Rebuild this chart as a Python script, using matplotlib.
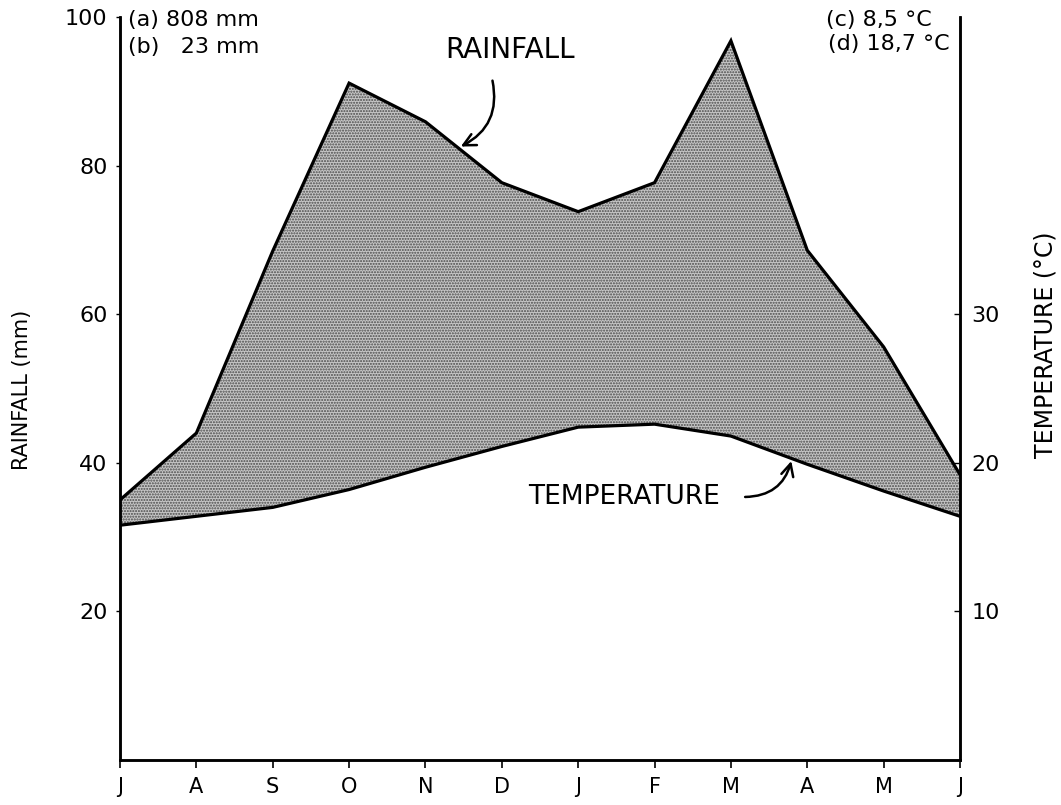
import matplotlib
matplotlib.use("Agg")
import numpy as np
import matplotlib.pyplot as plt

plt.rcParams['font.family'] = ['DejaVu Sans']
plt.rcParams['hatch.linewidth'] = 1.0
plt.rcParams['hatch.color'] = '#4a4a4a'

# 月份（7月到次年6月）
months = ["J", "A", "S", "O", "N", "D", "J", "F", "M", "A", "M", "J"]
# 月降水量 (mm)
rainfall = [35.0, 44.0, 68.5, 91.1, 85.9, 77.7, 73.8, 77.7, 96.8, 68.6, 55.6, 38.4]
# 月平均气温 (°C)
temperature = [15.8, 16.4, 17.0, 18.2, 19.7, 21.1, 22.4, 22.6, 21.8, 19.9, 18.1, 16.4]

rain_ticks = [20, 40, 60, 80, 100]
temp_ticks = [10, 20, 30]

x = np.arange(len(months))
temp_mm = np.array(temperature) * 2  # 气温刻度: 1 °C = 2 mm

fig = plt.figure(figsize=(10.61, 8.05), dpi=100)
ax = fig.add_axes([120 / 1061, 45 / 805, 840 / 1061, 743 / 805])

# 阴影区域（降水高于气温的湿润期）
ax.fill_between(x, temp_mm, rainfall, facecolor='#c6c6c6', edgecolor='#4a4a4a',
                hatch='......', linewidth=0)
ax.plot(x, rainfall, color='black', linewidth=2.3, solid_joinstyle='miter')

ax.set_xlim(0, len(months) - 1)
ax.set_ylim(0, 100)
ax.set_xticks(x)
ax.set_xticklabels(months, fontsize=15)
ax.set_yticks(rain_ticks)
ax.set_yticklabels([str(t) for t in rain_ticks], fontsize=16)
ax.tick_params(axis='x', direction='out', length=6, width=1.2, pad=6)
ax.tick_params(axis='y', direction='out', length=3, width=1.0, pad=6)

ax2 = ax.twinx()
ax2.plot(x, temperature, color='black', linewidth=2.3)
ax2.set_ylim(0, 50)
ax2.set_yticks(temp_ticks)
ax2.set_yticklabels([str(t) for t in temp_ticks], fontsize=16)
ax2.tick_params(axis='y', direction='in', length=4, width=1.0, pad=8)

for a in (ax, ax2):
    a.spines['top'].set_visible(False)
    for s in ('left', 'right', 'bottom'):
        a.spines[s].set_linewidth(1.8)

# 坐标轴标题
fig.text(22 / 1061, 1 - 390 / 805, "RAINFALL (mm)", rotation=90,
         ha='center', va='center', fontsize=15)
fig.text(1045 / 1061, 1 - 345 / 805, "TEMPERATURE (°C)", rotation=90,
         ha='center', va='center', fontsize=17)

# 年降水量 / 气温说明
ax.text(0.01, 0.996, "(a) 808 mm", transform=ax.transAxes, fontsize=16, va='center')
ax.text(0.01, 0.96, "(b)   23 mm", transform=ax.transAxes, fontsize=16, va='center')
ax.text(0.84, 0.996, "(c) 8,5 °C", transform=ax.transAxes, fontsize=16, va='center')
ax.text(0.843, 0.963, "(d) 18,7 °C", transform=ax.transAxes, fontsize=16, va='center')

# 曲线注释
ax.text(5.11, 95.6, "RAINFALL", ha='center', va='center', fontsize=20)
ax.annotate("", xy=(4.43, 82.4), xytext=(4.87, 91.8),
            arrowprops=dict(arrowstyle='->', color='black', lw=1.8,
                            connectionstyle='arc3,rad=-0.4', mutation_scale=22))
ax.text(6.6, 35.4, "TEMPERATURE", ha='center', va='center', fontsize=19)
ax.annotate("", xy=(8.8, 40.6), xytext=(8.15, 35.4),
            arrowprops=dict(arrowstyle='->', color='black', lw=1.8,
                            connectionstyle='arc3,rad=0.4', mutation_scale=22))

fig.savefig("out.png", dpi=100)
